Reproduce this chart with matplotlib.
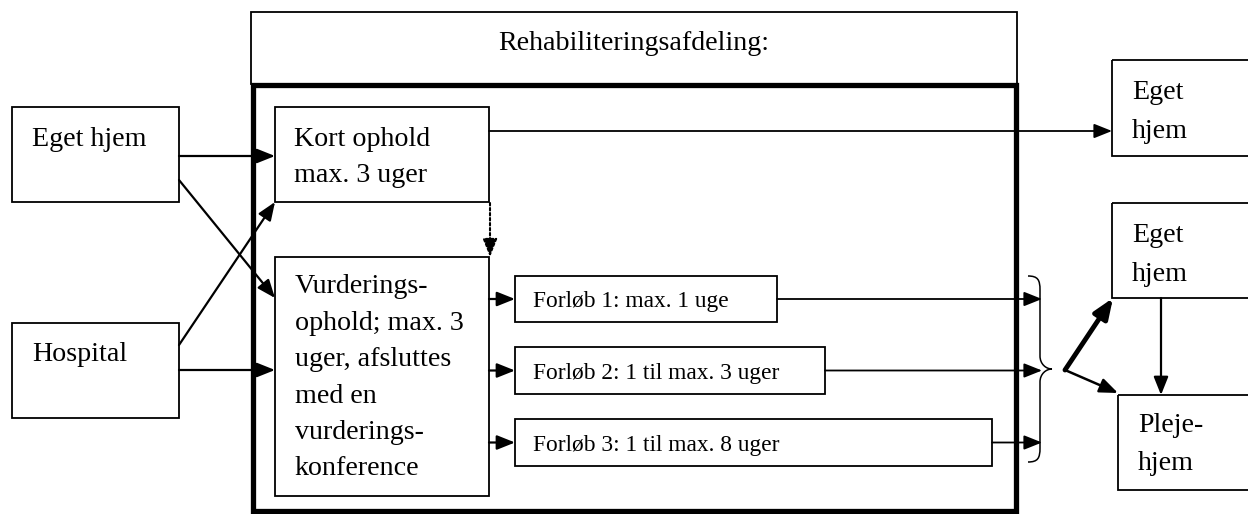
import matplotlib
matplotlib.use("Agg")
import matplotlib.pyplot as plt
from matplotlib.patches import Rectangle, FancyArrowPatch, PathPatch
from matplotlib.path import Path

plt.rcParams['font.family'] = ['Liberation Serif', 'DejaVu Serif']

# tekster i diagrammet
header_label = "Rehabiliteringsafdeling:"
source_labels = ["Eget hjem", "Hospital"]
kort_lines = ["Kort ophold", "max. 3 uger"]
vurd_lines = ["Vurderings-", "ophold; max. 3", "uger, afsluttes",
              "med en", "vurderings-", "konference"]
forloeb_labels = ["Forløb 1: max. 1 uge",
                  "Forløb 2: 1 til max. 3 uger",
                  "Forløb 3: 1 til max. 8 uger"]
home_lines = ["Eget", "hjem"]
pleje_lines = ["Pleje-", "hjem"]

# geometri i pixel (x0, y0, x1, y1), y nedad
src_boxes = [(12, 107, 179, 202), (12, 323, 179, 418)]
src_base = [146, 361]
kort_box = (275, 107, 489, 202)
kort_base = [146, 182]
vurd_box = (275, 257, 489, 496)
vurd_base = [293, 330, 366, 403, 439, 475]
forl_boxes = [(515, 276, 777, 322), (515, 347, 825, 394), (515, 419, 992, 466)]
forl_base = [307, 379, 451]
home_top = (1112, 60, 1262, 156)
home_mid = (1112, 203, 1262, 298)
pleje_box = (1118, 395, 1262, 490)

W, H = 1248, 514
fig = plt.figure(figsize=(W / 100, H / 100), dpi=100)
ax = fig.add_axes([0, 0, 1, 1])
ax.set_xlim(0, W)
ax.set_ylim(H, 0)
ax.axis('off')

BIG = 20.2
SMALL = 16.8
LW = 1.3


def box(b, lw=LW):
    x0, y0, x1, y1 = b
    ax.add_patch(Rectangle((x0, y0), x1 - x0, y1 - y0, fill=False,
                           edgecolor='black', linewidth=lw, zorder=2))


def arrow(p, q, lw=1.6, ls='-', ms=11):
    a = FancyArrowPatch(p, q, arrowstyle='-|>,head_length=1.0,head_width=0.4',
                        mutation_scale=ms, shrinkA=0, shrinkB=0,
                        color='black', linewidth=lw, linestyle=ls, zorder=3)
    ax.add_patch(a)


def lines(x, bases, txt, size=BIG):
    for b, t in zip(bases, txt):
        ax.text(x, b, t, fontsize=size, va='baseline', ha='left')


# overskrift og ramme
box((251, 12, 1017, 84))
ax.text(634, 50, header_label, fontsize=BIG, ha='center', va='baseline')
box((253, 85, 1016, 511), lw=3.8)

# kilder
for b, t, yb in zip(src_boxes, source_labels, src_base):
    box(b)
    ax.text(32, yb, t, fontsize=BIG, va='baseline')

box(kort_box)
lines(294, kort_base, kort_lines)
box(vurd_box)
lines(295, vurd_base, vurd_lines)

for b, t, yb in zip(forl_boxes, forloeb_labels, forl_base):
    box(b)
    ax.text(533, yb, t, fontsize=SMALL, va='baseline')

box(home_top)
lines(1132, [99, 138], home_lines)
box(home_mid)
lines(1132, [242, 281], home_lines)
box(pleje_box)
lines(1138, [432, 470], pleje_lines)

# pile ind
arrow((179, 156), (275, 156))
arrow((179, 180), (275, 298))
arrow((179, 345), (275, 202))
arrow((179, 370), (275, 370))

# kort ophold -> hjem
arrow((489, 131), (1112, 131), lw=1.3)
arrow((490, 203), (490, 257), lw=1.5, ls=(0, (1.2, 1.2)))

# vurdering -> forloeb -> klamme
for b in forl_boxes:
    yc = (b[1] + b[3]) / 2
    arrow((489, yc), (515, yc))
    arrow((b[2], yc), (1042, yc), lw=1.3)

# klamme
verts = [(1028, 276), (1038, 276), (1040, 280), (1040, 290),
         (1040, 356),
         (1040, 364), (1046, 369), (1052, 369),
         (1046, 369), (1040, 374), (1040, 382),
         (1040, 448),
         (1040, 458), (1038, 462), (1028, 462)]
codes = [Path.MOVETO, Path.CURVE4, Path.CURVE4, Path.CURVE4,
         Path.LINETO,
         Path.CURVE4, Path.CURVE4, Path.CURVE4,
         Path.CURVE4, Path.CURVE4, Path.CURVE4,
         Path.LINETO,
         Path.CURVE4, Path.CURVE4, Path.CURVE4]
ax.add_patch(PathPatch(Path(verts, codes), fill=False, lw=1.1, edgecolor='black'))

# udskrivning
arrow((1065, 370), (1113, 298), lw=3.5, ms=12)
arrow((1065, 370), (1118, 393), lw=1.8)
arrow((1161, 298), (1161, 395), lw=1.6)

fig.savefig('out.png', dpi=100)
